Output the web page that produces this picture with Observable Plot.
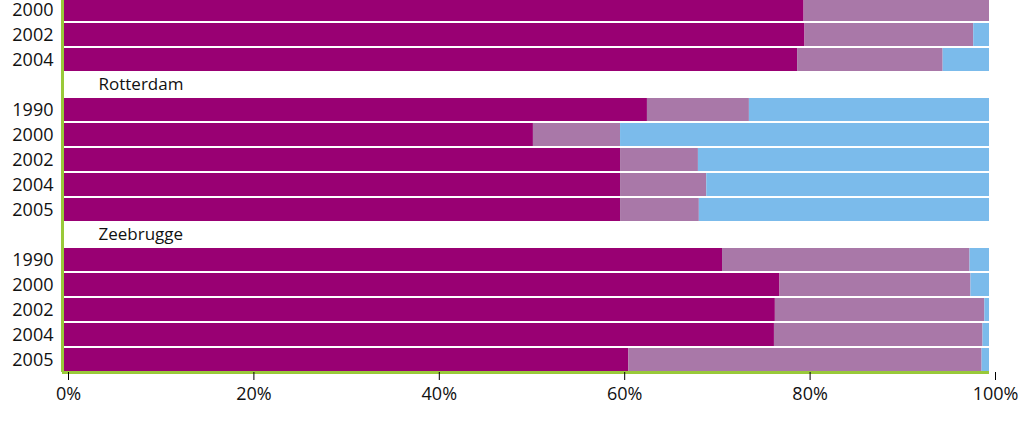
<!DOCTYPE html>
<html>
<head>
<meta charset="utf-8">
<script src="https://cdn.jsdelivr.net/npm/d3@7"></script>
<script src="https://cdn.jsdelivr.net/npm/@observablehq/plot@0.6"></script>
<style>
  html, body { margin: 0; padding: 0; background: #fff; }
  #chart svg { display: block; }
</style>
</head>
<body>
<div id="chart"></div>
<script>
// ---- data (percent shares) ----
const series = ["Categorie 1", "Categorie 2", "Categorie 3"];
const colors = ["#990073", "#a978a8", "#7bbbeb"];

const groupTop = "";
const topYears = ["2000", "2002", "2004"];
const topS1 = [80.0, 80.1, 79.3];
const topS2 = [20.0, 18.2, 15.7];
const topS3 = [0.0, 1.7, 5.0];

const groupRotterdam = "Rotterdam";
const rotYears = ["1990", "2000", "2002", "2004", "2005"];
const rotS1 = [63.1, 50.8, 60.2, 60.2, 60.2];
const rotS2 = [11.0, 9.4, 8.4, 9.3, 8.5];
const rotS3 = [25.9, 39.8, 31.4, 30.5, 31.3];

const groupZeebrugge = "Zeebrugge";
const zeeYears = ["1990", "2000", "2002", "2004", "2005"];
const zeeS1 = [71.2, 77.4, 76.9, 76.8, 61.1];
const zeeS2 = [26.7, 20.6, 22.6, 22.5, 38.1];
const zeeS3 = [2.1, 2.0, 0.5, 0.7, 0.8];

const xTicks = [0, 20, 40, 60, 80, 100];

// ---- build table ----
const blocks = [
  {name: groupTop, key: "T", years: topYears, vals: [topS1, topS2, topS3], header: false},
  {name: groupRotterdam, key: "R", years: rotYears, vals: [rotS1, rotS2, rotS3], header: true},
  {name: groupZeebrugge, key: "Z", years: zeeYears, vals: [zeeS1, zeeS2, zeeS3], header: true}
];
const rows = [];
const yearOf = {};
const headers = [];
const data = [];
for (const b of blocks) {
  if (b.header) { rows.push(b.name); headers.push(b.name); }
  b.years.forEach((yr, i) => {
    const k = b.key + yr;
    rows.push(k);
    yearOf[k] = yr;
    series.forEach((s, j) => data.push({row: k, series: s, value: b.vals[j][i]}));
  });
}

const green = "#99c93a";
const W = 1024, H = 445;

const chart = Plot.plot({
  width: W,
  height: H,
  marginLeft: 62,
  marginRight: 35,
  marginTop: 0,
  marginBottom: 73,
  style: {fontFamily: "'Open Sans', sans-serif", background: "#fff", overflow: "visible"},
  x: {domain: [0, 100], ticks: xTicks, tickFormat: d => d + "%", label: null},
  y: {domain: rows, range: [-3, 372], padding: 0, label: null},
  color: {domain: series, range: colors},
  marks: [
    Plot.barX(data, Plot.stackX({x: "value", y: "row", fill: "series", insetTop: 1, insetBottom: 1})),
    Plot.text(headers, {y: d => d, text: d => d, frameAnchor: "left", dx: 36, textAnchor: "start", fontSize: 17, fill: "#111"}),
    Plot.axisY({tickFormat: d => yearOf[d] || "", tickSize: 0, tickPadding: 9, fontSize: 18, fill: "#111", label: null}),
    Plot.ruleX([0], {stroke: green, strokeWidth: 3}),
    Plot.ruleY(["Z2005"], {x1: 0, x2: 100, dy: 12.5, stroke: green, strokeWidth: 3}),
    Plot.axisX({ticks: xTicks, tickFormat: d => d + "%", tickSize: 8, tickPadding: 7, stroke: "#000",
      fontSize: 18, fill: "#111", dx: 6, label: null,
      style: {fontFamily: "'Liberation Sans Narrow', 'DejaVu Sans Condensed', sans-serif"}})
  ]
});
document.getElementById("chart").appendChild(chart);
</script>
</body>
</html>
